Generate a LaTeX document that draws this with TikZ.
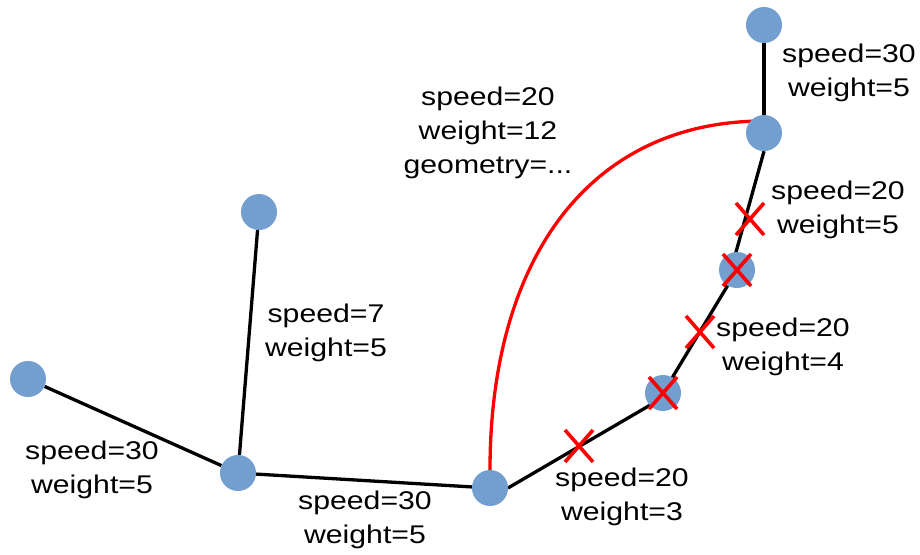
\documentclass[tikz,border=0pt]{standalone}
\usepackage{fontspec}
\newfontfamily\labfont[FakeStretch=1.18]{Liberation Sans}
\usetikzlibrary{shapes.misc,backgrounds}
\definecolor{nodeblue}{HTML}{729FCF}
\begin{document}
\begin{tikzpicture}[x=1pt,y=-1pt,
  vtx/.style={circle, fill=nodeblue, draw=none, minimum size=36pt, inner sep=0pt},
  edge/.style={line width=3.3pt, black},
  redge/.style={line width=3.3pt, red},
  xmark/.style={cross out, draw=red, line width=3.6pt, minimum width=28pt, minimum height=32pt, inner sep=0pt, outer sep=0pt},
  lab/.style={align=center, font=\labfont\fontsize{25.6}{34}\selectfont, inner sep=0pt}
]
\useasboundingbox (0,0) rectangle (920,554);

% vertices
\node[vtx] (A) at (28,379) {};
\node[vtx] (B) at (238,473) {};
\node[vtx] (C) at (259,212) {};
\node[vtx] (D) at (490,488) {};
\node[vtx] (E) at (663,393) {};
\node[vtx] (F) at (737,270) {};
\node[vtx] (G) at (764,133) {};
\node[vtx] (H) at (764,25) {};

\coordinate (Fin) at (731,270);
\coordinate (Ein) at (652,404);
\coordinate (Dout) at (508,488);
\coordinate (Gtop) at (764,121);

\begin{scope}[on background layer]
  \draw[edge] (A) -- (B);
  \draw[edge] (B) -- (C);
  \draw[edge] (B) -- (D);
  \draw[edge] (Dout) -- (Ein);
  \draw[edge] (E) -- (F);
  \draw[edge] (G.south) -- (Fin);
  \draw[edge] (G) -- (H);
  \draw[redge] (D.north) .. controls (490,258) and (590,121) .. (Gtop);
\end{scope}

% crossed-out marks
\node[xmark] (X1) at (579,446) {};
\node[xmark] (X2) at (663,393) {};
\node[xmark] (X3) at (700,332) {};
\node[xmark] (X4) at (737,270) {};
\node[xmark] (X5) at (750,219) {};

% labels
\node[lab] (LGH) at (849,73) {speed=30\\weight=5};
\node[lab] (LR) at (488,133) {speed=20\\weight=12\\geometry=...};
\node[lab] (LFG) at (838,210) {speed=20\\weight=5};
\node[lab] (LEF) at (783,347) {speed=20\\weight=4};
\node[lab] (LDE) at (622,497) {speed=20\\weight=3};
\node[lab] (LAB) at (92,470) {speed=30\\weight=5};
\node[lab] (LBD) at (365,520) {speed=30\\weight=5};
\node[lab] (LBC) at (326,333) {speed=7\\weight=5};
\end{tikzpicture}
\end{document}
